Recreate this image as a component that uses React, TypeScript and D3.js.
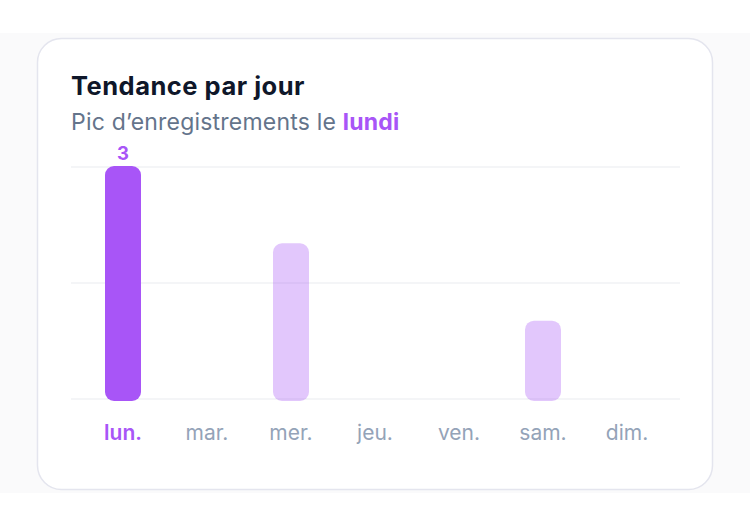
import React, { useEffect, useRef } from 'react';
import * as d3 from 'd3';

const days = ['lun.', 'mar.', 'mer.', 'jeu.', 'ven.', 'sam.', 'dim.'];
const counts = [3, 0, 2, 0, 0, 1, 0];
const gridTicks = [0, 1.5, 3];

const W = 750;
const H = 528;
const PURPLE = '#a855f7';
const FONT = 'Inter, "Noto Sans", sans-serif';

export default function App() {
  const svgRef = useRef<SVGSVGElement>(null);

  useEffect(() => {
    if (!svgRef.current) return;
    const svg = d3.select(svgRef.current);
    svg.selectAll('*').remove();

    // page band + card
    svg.append('rect').attr('x', 0).attr('y', 33).attr('width', W).attr('height', 460).attr('fill', '#fafafb');
    svg.append('rect')
      .attr('x', 37.5).attr('y', 38.5).attr('width', 675).attr('height', 451)
      .attr('rx', 24).attr('fill', '#ffffff')
      .attr('stroke', '#e4e5ee').attr('stroke-width', 1.5);

    svg.append('text')
      .attr('x', 71).attr('y', 95)
      .attr('font-family', FONT).attr('font-size', 25.5).attr('font-weight', 700)
      .attr('letter-spacing', 0.5)
      .attr('fill', '#0f172a')
      .text('Tendance par jour');

    const sub = svg.append('text')
      .attr('x', 71).attr('y', 130)
      .attr('font-family', FONT).attr('font-size', 23)
      .attr('letter-spacing', 0.2)
      .attr('fill', '#64748b');
    sub.append('tspan').text("Pic d\u2019enregistrements le ");
    sub.append('tspan').attr('font-weight', 700).attr('fill', PURPLE).text('lundi');

    const x = d3.scaleBand<string>().domain(days).range([81, 669]);
    const y = d3.scaleLinear().domain([0, 3]).range([399, 167]);
    const barW = 36;
    const maxVal = d3.max(counts) ?? 0;

    svg.append('g').selectAll('line').data(gridTicks).join('line')
      .attr('x1', 71).attr('x2', 680)
      .attr('y1', (d) => y(d)).attr('y2', (d) => y(d))
      .attr('stroke', '#f1f2f5').attr('stroke-width', 1.5);

    const bars = days.map((d, i) => ({ day: d, value: counts[i] })).filter((b) => b.value > 0);
    svg.append('g').selectAll('rect').data(bars).join('rect')
      .attr('x', (d) => (x(d.day) ?? 0) + x.bandwidth() / 2 - barW / 2)
      .attr('y', (d) => y(d.value) - 1)
      .attr('width', barW)
      .attr('height', (d) => y(0) - y(d.value) + 3)
      .attr('rx', 9)
      .attr('fill', PURPLE)
      .attr('fill-opacity', (d) => (d.value === maxVal ? 1 : 0.33));

    bars.filter((b) => b.value === maxVal).forEach((b) => {
      svg.append('text')
        .attr('x', (x(b.day) ?? 0) + x.bandwidth() / 2)
        .attr('y', y(b.value) - 7)
        .attr('text-anchor', 'middle')
        .attr('font-family', FONT).attr('font-size', 18.5).attr('font-weight', 700)
        .attr('fill', PURPLE)
        .text(b.value);
    });

    svg.append('g').selectAll('text').data(days).join('text')
      .attr('x', (d) => (x(d) ?? 0) + x.bandwidth() / 2)
      .attr('y', 440)
      .attr('text-anchor', 'middle')
      .attr('font-family', FONT).attr('font-size', 21)
      .attr('font-weight', (d, i) => (counts[i] === maxVal ? 600 : 400))
      .attr('fill', (d, i) => (counts[i] === maxVal ? PURPLE : '#94a3b8'))
      .text((d) => d);
  }, []);

  return (
    <svg
      ref={svgRef}
      width={W}
      height={H}
      style={{ position: 'absolute', left: 0, top: 0, background: '#ffffff' }}
    />
  );
}
